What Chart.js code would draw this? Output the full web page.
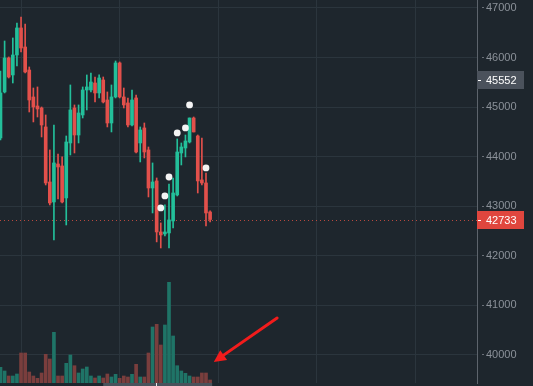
<!DOCTYPE html>
<html>
<head>
<meta charset="utf-8">
<script src="https://cdn.jsdelivr.net/npm/chart.js@4.4.1/dist/chart.umd.min.js"></script>
<style>
  html, body { margin: 0; padding: 0; background: #1e262d; }
  canvas { display: block; }
</style>
</head>
<body>
<canvas id="chart" width="533" height="386"></canvas>
<script>
// candles, one entry per bar
const opens  = [44378,45306,45992,45649,46052,46597,46213,45749,45205,45023,44983,44600,43490,43087,43853,43813,43168,44277,44983,44438,44842,45346,45346,45487,45286,45548,
                45144,44680,45205,45891,45205,45084,44640,45185,44277,44580,44136,43369,43511,42482,42442,42462,42704,43228,44075,44176,44297,44781,44418,43531,43470,42885];
const highs  = [45729,46334,46012,46395,46697,46818,46677,45810,45386,45407,45003,44842,44136,44640,44055,43995,44418,45447,45044,45044,45407,45649,45689,45608,45649,45608,
                45306,45447,45931,45911,45386,45185,45346,45245,44600,44680,44196,43874,43571,42664,43027,43450,43571,44358,44277,44438,44781,44801,44438,44378,43672,42906];
const lows   = [44338,45286,45588,45487,45830,46113,45689,44902,44701,44801,44398,43430,43027,42321,43147,43067,42623,44035,44075,44277,44781,44943,45306,45104,45185,45084,
                44600,44499,45185,45185,44983,44600,44620,44075,43894,43975,43188,42865,42281,42159,42402,42159,42563,43208,43833,43995,44277,44499,43268,43430,42603,42684];
const closes = [45286,45992,45608,46052,46597,46193,45709,45144,45003,44963,44640,43470,43067,43874,43793,43087,44297,44943,44438,44882,45346,45407,45507,45286,45588,45104,
                44680,45205,45891,45205,45044,44640,45144,44095,44539,44095,43369,43490,42482,42422,42482,42724,43268,44095,44196,44317,44781,44499,43511,43470,42865,42733];
const volumes = [157,120,70,70,90,300,300,110,70,47,100,287,240,507,70,70,197,280,173,100,140,160,70,50,70,50,
                 90,60,87,47,70,60,87,187,60,60,300,560,587,380,580,1007,470,173,120,97,70,60,60,100,100,30];

// signal dots above some candles
const dotIndex = [39, 40, 41, 43, 45, 46, 50];
const dotPrice = [42966, 43208, 43591, 44479, 44580, 45044, 43773];

// axes
const priceTicks = [40000, 41000, 42000, 43000, 44000, 45000, 46000, 47000];
const timeTicks = [5, 29, 53, 77, 101];
const lastPrice = 42733;
const markPrice = 45552;

const UP = '#23bf9a', DOWN = '#e2504b';
const UP_VOL = '#1f7467', DOWN_VOL = '#7a3e3d';

const idx = opens.map((_, i) => i);
const isUp = idx.map(i => closes[i] >= opens[i]);

const overlay = {
  id: 'overlay',
  beforeDatasetsDraw(chart) {
    const { ctx, chartArea } = chart;
    const y = chart.scales.y.getPixelForValue(lastPrice);
    ctx.save();
    ctx.strokeStyle = '#b8493f';
    ctx.lineWidth = 1;
    ctx.setLineDash([1, 3]);
    ctx.beginPath();
    ctx.moveTo(chartArea.left, Math.round(y) + 0.5);
    ctx.lineTo(chartArea.right, Math.round(y) + 0.5);
    ctx.stroke();
    ctx.restore();
  },
  afterDraw(chart) {
    const { ctx, chartArea } = chart;
    const xs = chart.scales.x, ys = chart.scales.y;
    ctx.save();

    // price labels on the axis
    const tag = (value, bg) => {
      const y = Math.round(ys.getPixelForValue(value));
      ctx.fillStyle = bg;
      ctx.fillRect(chartArea.right, y - 9, 47, 18);
      ctx.fillStyle = '#ffffff';
      ctx.fillRect(chartArea.right + 1, y, 3, 1);
      ctx.font = '11px "Liberation Sans", Arial, sans-serif';
      ctx.textBaseline = 'middle';
      ctx.textAlign = 'left';
      ctx.fillText(String(value), chartArea.right + 9, y + 0.5);
    };
    tag(markPrice, '#4b525c');
    tag(lastPrice, '#e0463e');

    // scroll bar at the bottom
    const sx1 = xs.getPixelForValue(25), sx2 = xs.getPixelForValue(51.5);
    ctx.fillStyle = '#4a525b';
    ctx.fillRect(sx1, chartArea.bottom, sx2 - sx1, 3);
    ctx.fillStyle = '#e8e8e8';
    ctx.fillRect(Math.round(xs.getPixelForValue(37.8)), chartArea.bottom, 1, 3);

    // red arrow pointing at the last volume bars
    const tx = xs.getPixelForValue(67.3), ty = ys.getPixelForValue(40747);
    const hx = xs.getPixelForValue(51.9), hy = ys.getPixelForValue(39860);
    const ang = Math.atan2(hy - ty, hx - tx);
    ctx.strokeStyle = '#f21c1c';
    ctx.fillStyle = '#f21c1c';
    ctx.lineWidth = 3;
    ctx.lineCap = 'round';
    ctx.beginPath();
    ctx.moveTo(tx, ty);
    ctx.lineTo(hx - 8 * Math.cos(ang), hy - 8 * Math.sin(ang));
    ctx.stroke();
    ctx.beginPath();
    ctx.moveTo(hx, hy);
    ctx.lineTo(hx - 12 * Math.cos(ang) + 6 * Math.sin(ang), hy - 12 * Math.sin(ang) - 6 * Math.cos(ang));
    ctx.lineTo(hx - 12 * Math.cos(ang) - 6 * Math.sin(ang), hy - 12 * Math.sin(ang) + 6 * Math.cos(ang));
    ctx.closePath();
    ctx.fill();
    ctx.restore();
  }
};

new Chart(document.getElementById('chart'), {
  type: 'bar',
  data: {
    datasets: [
      {
        type: 'scatter',
        data: dotIndex.map((x, i) => ({ x: x, y: dotPrice[i] })),
        pointRadius: 3.4,
        pointBackgroundColor: '#f4f4f4',
        pointBorderWidth: 0,
        order: 0
      },
      {
        data: idx.map(i => ({ x: i, y: [Math.min(opens[i], closes[i]), Math.max(opens[i], closes[i])] })),
        backgroundColor: idx.map(i => isUp[i] ? UP : DOWN),
        barThickness: 3,
        minBarLength: 1,
        grouped: false,
        order: 1
      },
      {
        data: idx.map(i => ({ x: i, y: [lows[i], highs[i]] })),
        backgroundColor: idx.map(i => isUp[i] ? UP : DOWN),
        barThickness: 1,
        grouped: false,
        order: 2
      },
      {
        data: idx.map(i => ({ x: i, y: volumes[i] })),
        backgroundColor: idx.map(i => isUp[i] ? UP_VOL : DOWN_VOL),
        barThickness: 3,
        grouped: false,
        yAxisID: 'vol',
        order: 3
      }
    ]
  },
  options: {
    responsive: false,
    animation: false,
    layout: { autoPadding: false, padding: { top: 0, left: 0, right: 0, bottom: 3 } },
    plugins: { legend: { display: false }, tooltip: { enabled: false } },
    scales: {
      x: {
        type: 'linear',
        min: -0.12,
        max: 115.94,
        offset: false,
        afterBuildTicks: s => { s.ticks = timeTicks.map(v => ({ value: v })); },
        afterFit: s => { s.height = 0; s.paddingLeft = 0; s.paddingRight = 0; },
        ticks: { display: false },
        grid: { color: '#2b353d', drawTicks: false, offset: false },
        border: { display: false }
      },
      y: {
        position: 'right',
        min: 39435,
        max: 47161,
        afterBuildTicks: s => { s.ticks = priceTicks.map(v => ({ value: v })); },
        afterFit: s => { s.width = 56; s.paddingTop = 0; s.paddingBottom = 0; },
        ticks: {
          color: '#8b9199',
          font: { family: '"Liberation Sans", Arial, sans-serif', size: 11 },
          padding: 2,
          callback: v => String(v)
        },
        grid: { color: '#2b353d', tickColor: '#6a7078', tickLength: 7, tickBorderDash: [0, 4, 3, 0] },
        border: { display: true, color: '#5d646c' }
      },
      vol: {
        display: false,
        min: 0,
        max: 3830
      }
    }
  },
  plugins: [overlay]
});
</script>
</body>
</html>
